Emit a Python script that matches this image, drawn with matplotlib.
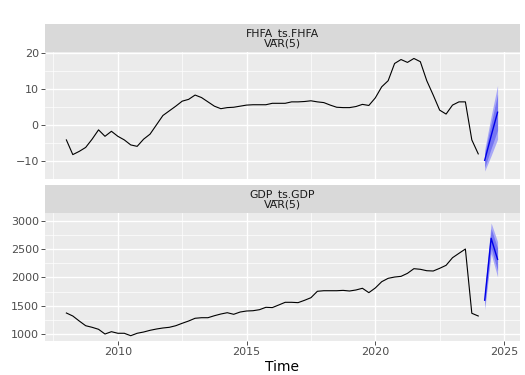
import numpy as np
import matplotlib.pyplot as plt

# quarterly observations 2008 Q1 .. 2024 Q1
fhfa = [-4.1, -8.2, -7.3, -6.2, -3.9, -1.3, -3.1, -1.7,
        -3.1, -4.1, -5.5, -5.9, -3.9, -2.5, 0.1, 2.7,
        4.0, 5.3, 6.7, 7.2, 8.4, 7.7, 6.5, 5.3,
        4.6, 4.9, 5.0, 5.3, 5.6, 5.7, 5.7, 5.7,
        6.1, 6.1, 6.1, 6.5, 6.5, 6.6, 6.8, 6.5,
        6.3, 5.6, 5.0, 4.9, 4.9, 5.2, 5.8, 5.5,
        7.6, 10.7, 12.4, 17.2, 18.3, 17.5, 18.6, 17.7,
        12.4, 8.4, 4.2, 3.1, 5.6, 6.5, 6.5, -4.1, -8.0]
gdp = [1375, 1322, 1234, 1151, 1123, 1088, 1005, 1046,
       1018, 1018, 975, 1018, 1040, 1070, 1093, 1111,
       1123, 1151, 1194, 1234, 1282, 1292, 1292, 1327,
       1357, 1380, 1352, 1392, 1410, 1415, 1433, 1475,
       1470, 1516, 1563, 1563, 1557, 1598, 1644, 1757,
       1767, 1767, 1767, 1773, 1762, 1780, 1810, 1733,
       1815, 1926, 1985, 2008, 2020, 2073, 2155, 2144,
       2119, 2114, 2161, 2214, 2348, 2425, 2501, 1370, 1322]
time = 2008 + np.arange(len(fhfa)) / 4

# VAR(5) forecasts 2024 Q2 .. Q4 with 80% / 95% half-widths
fc_time = [2024.25, 2024.5, 2024.75]
fhfa_fc = [-9.8, -3.0, 3.6]
fhfa_80 = [2.0, 3.5, 5.0]
fhfa_95 = [3.0, 5.5, 7.5]
gdp_fc = [1600, 2690, 2320]
gdp_80 = [110, 170, 200]
gdp_95 = [170, 270, 310]

panels = [
    ("FHFA_ts.FHFA\nVAR(5)", fhfa, fhfa_fc, fhfa_80, fhfa_95,
     (-14.8, 20.4), [-10, 0, 10, 20], [-15, -5, 5, 15]),
    ("GDP_ts.GDP\nVAR(5)", gdp, gdp_fc, gdp_80, gdp_95,
     (882, 3135), [1000, 1500, 2000, 2500, 3000], [1250, 1750, 2250, 2750]),
]

fig = plt.figure(figsize=(5.25, 3.75), dpi=100)
W, H = 525, 375
left, right = 45, 519.7
boxes = [(24, 52, 179), (185, 213, 341)]  # strip top, plot top, plot bottom (px)

for (title, y, fc, b80, b95, ylim, yt, ymin), (st, pt, pb) in zip(panels, boxes):
    ax = fig.add_axes([left / W, 1 - pb / H, (right - left) / W, (pb - pt) / H])
    ax.set_facecolor("#EBEBEB")
    for s in ax.spines.values():
        s.set_visible(False)
    ax.set_xlim(2007.17, 2025.61)
    ax.set_ylim(*ylim)
    ax.set_yticks(yt)
    ax.set_yticks(ymin, minor=True)
    ax.set_xticks([2010, 2015, 2020, 2025])
    ax.set_xticks([2007.5, 2012.5, 2017.5, 2022.5], minor=True)
    ax.grid(which="major", color="white", lw=1.0)
    ax.grid(which="minor", color="white", lw=0.5)
    ax.set_axisbelow(True)
    ax.tick_params(which="major", length=3, width=0.6, color="#333333",
                   labelcolor="#4D4D4D", labelsize=8, pad=1.5)
    ax.tick_params(which="minor", length=0)

    ax.plot(time, y, color="black", lw=0.8)
    fc = np.array(fc)
    ax.fill_between(fc_time, fc - np.array(b95), fc + np.array(b95),
                    color="#A8A8F6", lw=0)
    ax.fill_between(fc_time, fc - np.array(b80), fc + np.array(b80),
                    color="#7676F2", lw=0)
    ax.plot(fc_time, fc, color="#0000E8", lw=1.0)

    sax = fig.add_axes([left / W, 1 - pt / H, (right - left) / W, (pt - st) / H])
    sax.set_facecolor("#D9D9D9")
    sax.set_xticks([])
    sax.set_yticks([])
    for s in sax.spines.values():
        s.set_visible(False)
    sax.text(0.5, 0.5, title, ha="center", va="center", fontsize=7.8,
             color="#1A1A1A", linespacing=0.95, transform=sax.transAxes)

    if pb == 179:
        ax.tick_params(axis="x", which="major", length=0, labelbottom=False)
    else:
        ax.set_xlabel("Time", fontsize=10, color="black", labelpad=2)

fig.savefig("out.png", dpi=100)
